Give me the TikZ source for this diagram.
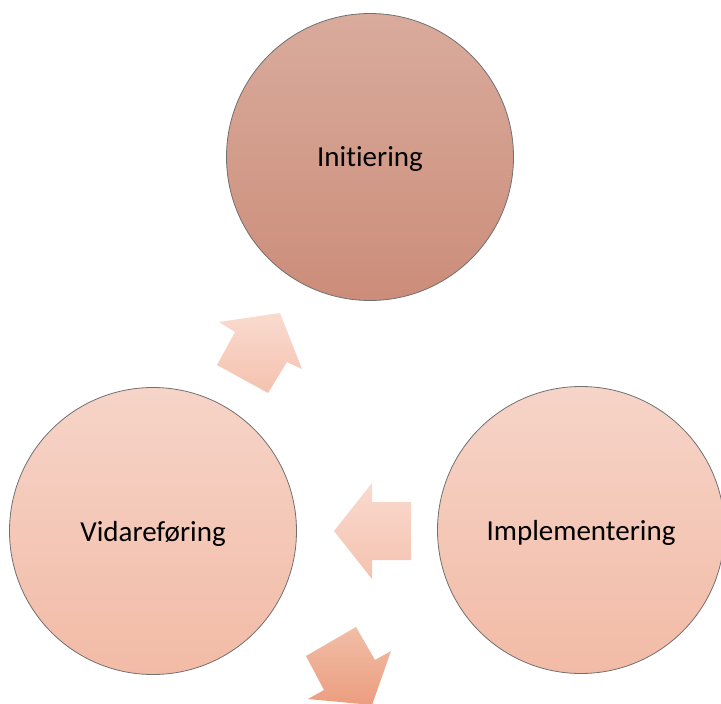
\documentclass[tikz,border=0pt]{standalone}
\usepackage{fontspec}
\setmainfont{Carlito}[Ligatures=NoCommon]
\definecolor{topA}{HTML}{D9AB9C}
\definecolor{topB}{HTML}{CC8D7A}
\definecolor{sideA}{HTML}{F6D4C8}
\definecolor{sideB}{HTML}{F2BBA6}
\definecolor{arrA}{HTML}{F9DACF}
\definecolor{arrB}{HTML}{F5C2AF}
\definecolor{arrC}{HTML}{F0BEA7}
\definecolor{arrD}{HTML}{EC9D80}
\definecolor{rim}{HTML}{707070}
\tikzset{
  phase/.style={circle, draw=rim, line width=0.8pt, minimum size=287pt, inner sep=0pt,
    font=\fontsize{29}{35}\selectfont, text=black, text depth=0pt},
  blockarrow/.style={draw=none}
}
\begin{document}
\begin{tikzpicture}[x=1pt,y=-1pt]
\useasboundingbox (0,0) rectangle (721,704);
\node[phase, top color=topA, bottom color=topB] (init) at (370,157) {Initiering};
\node[phase, top color=sideA, bottom color=sideB] (vid) at (153,531) {Vidareføring};
\node[phase, top color=sideA, bottom color=sideB] (impl) at (581,530) {Implementering};
% arrow from Vidareføring to Initiering
\path[blockarrow, top color=arrA, bottom color=arrB]
  (219,322) -- (280,313) -- (302,369) -- (287,362) -- (268,393) -- (217,365) -- (235,332) -- cycle;
% arrow from Implementering to Vidareføring
\path[blockarrow, top color=arrA, bottom color=arrB]
  (334,531) -- (372,483) -- (372,502) -- (411,502) -- (411,560) -- (372,560) -- (372,579) -- cycle;
% arrow from Vidareføring downwards
\path[blockarrow, top color=arrC, bottom color=arrD]
  (306,656) -- (356,627) -- (375,660) -- (391,651) -- (372,705) -- (308,699) -- (324,690) -- cycle;
\end{tikzpicture}
\end{document}
